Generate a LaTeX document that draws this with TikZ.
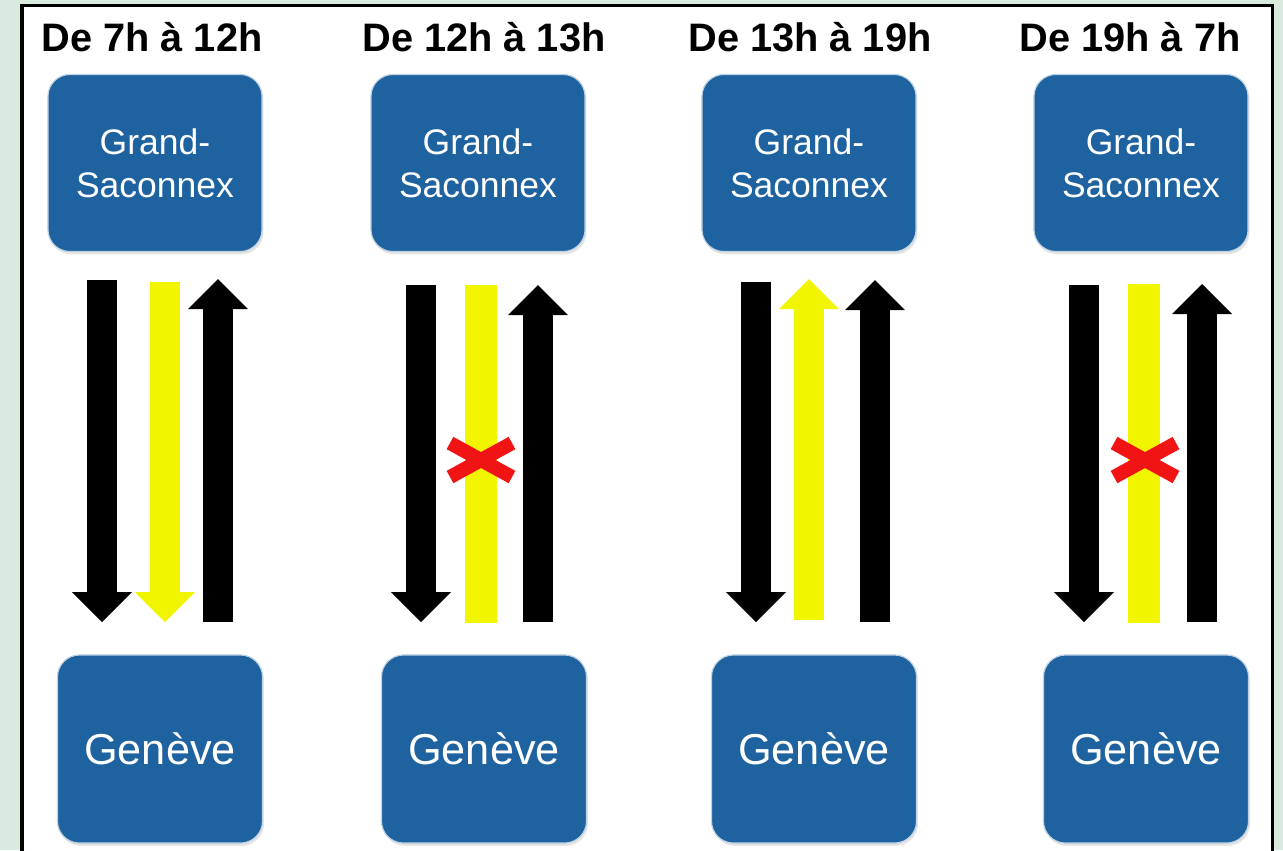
\documentclass[tikz,border=0pt]{standalone}
\usepackage{fontspec}
\setmainfont{Liberation Sans}
\usetikzlibrary{arrows.meta,shadows}
\definecolor{fond}{RGB}{217,234,222}
\definecolor{bleu}{RGB}{30,98,160}
\definecolor{bord}{RGB}{190,210,228}
\definecolor{jaune}{RGB}{242,245,0}
\definecolor{rouge}{RGB}{240,20,20}
\tikzset{
	lieu/.style={fill=bleu,text=white,draw=bord,line width=0.012cm,rounded corners=0.22cm,align=center,
		drop shadow={opacity=0.2,shadow xshift=0.4pt,shadow yshift=-0.8pt}},
	haut/.style={lieu,minimum width=2.14cm,minimum height=1.77cm,font=\fontsize{10.1}{12.2}\selectfont},
	bas/.style={lieu,minimum width=2.05cm,minimum height=1.88cm,font=\fontsize{12.3}{14}\selectfont},
	heure/.style={font=\fontsize{11.3}{13}\selectfont\bfseries},
	voie/.style={line width=0.3cm,-{Triangle[width=0.6cm,length=0.3cm,line width=0pt]}},
	barre/.style={jaune,line width=0.32cm},
	croix/.style={rouge,line width=0.14cm}
}
\begin{document}
\begin{tikzpicture}[x=0.01cm,y=-0.01cm]
				\fill[fond] (0,0) rectangle (1283,850);
				\useasboundingbox (0,0) rectangle (1283,850);
				\draw[fill=white,line width=0.03cm] (22,5) rectangle (1272,880);
				\node[heure] (t1) at (152,37) {De 7h à 12h};
				\node[heure] (t2) at (484,37) {De 12h à 13h};
				\node[heure] (t3) at (810,37) {De 13h à 19h};
				\node[heure] (t4) at (1130,37) {De 19h à 7h};
				\node[haut] (gs1) at (155,163) {Grand-\\Saconnex};
				\node[haut] (gs2) at (478,163) {Grand-\\Saconnex};
				\node[haut] (gs3) at (809,163) {Grand-\\Saconnex};
				\node[haut] (gs4) at (1141,163) {Grand-\\Saconnex};
				\node[bas] (ge1) at (160,749) {Genève};
				\node[bas] (ge2) at (484,749) {Genève};
				\node[bas] (ge3) at (814,749) {Genève};
				\node[bas] (ge4) at (1146,749) {Genève};
				\path (102,280) coordinate (a1) (102,622) coordinate (b1);
				\path (165,282) coordinate (c1) (165,622) coordinate (d1);
				\path (218,622) coordinate (e1) (218,279) coordinate (f1);
				\path (421,285) coordinate (a2) (421,622) coordinate (b2);
				\path (481,285) coordinate (c2) (481,623) coordinate (d2);
				\path (538,622) coordinate (e2) (538,285) coordinate (f2);
				\path (756,282) coordinate (a3) (756,622) coordinate (b3);
				\path (809,620) coordinate (c3) (809,279) coordinate (d3);
				\path (875,622) coordinate (e3) (875,280) coordinate (f3);
				\path (1084,285) coordinate (a4) (1084,622) coordinate (b4);
				\path (1144,284) coordinate (c4) (1144,623) coordinate (d4);
				\path (1202,622) coordinate (e4) (1202,284) coordinate (f4);
				\path (481,460) coordinate (x2) (1145,460) coordinate (x4);
				\draw[voie] (a1) -- (b1);
				\draw[voie,jaune] (c1) -- (d1);
				\draw[voie] (e1) -- (f1);
				\draw[voie] (a2) -- (b2);
				\draw[barre] (c2) -- (d2);
				\draw[voie] (e2) -- (f2);
				\draw[voie] (a3) -- (b3);
				\draw[voie,jaune] (c3) -- (d3);
				\draw[voie] (e3) -- (f3);
				\draw[voie] (a4) -- (b4);
				\draw[barre] (c4) -- (d4);
				\draw[voie] (e4) -- (f4);
				\draw[croix] (x2) ++(-31,-17) -- ++(62,34) (x2) ++(-31,17) -- ++(62,-34);
				\draw[croix] (x4) ++(-31,-17) -- ++(62,34) (x4) ++(-31,17) -- ++(62,-34);
\end{tikzpicture}
\end{document}
